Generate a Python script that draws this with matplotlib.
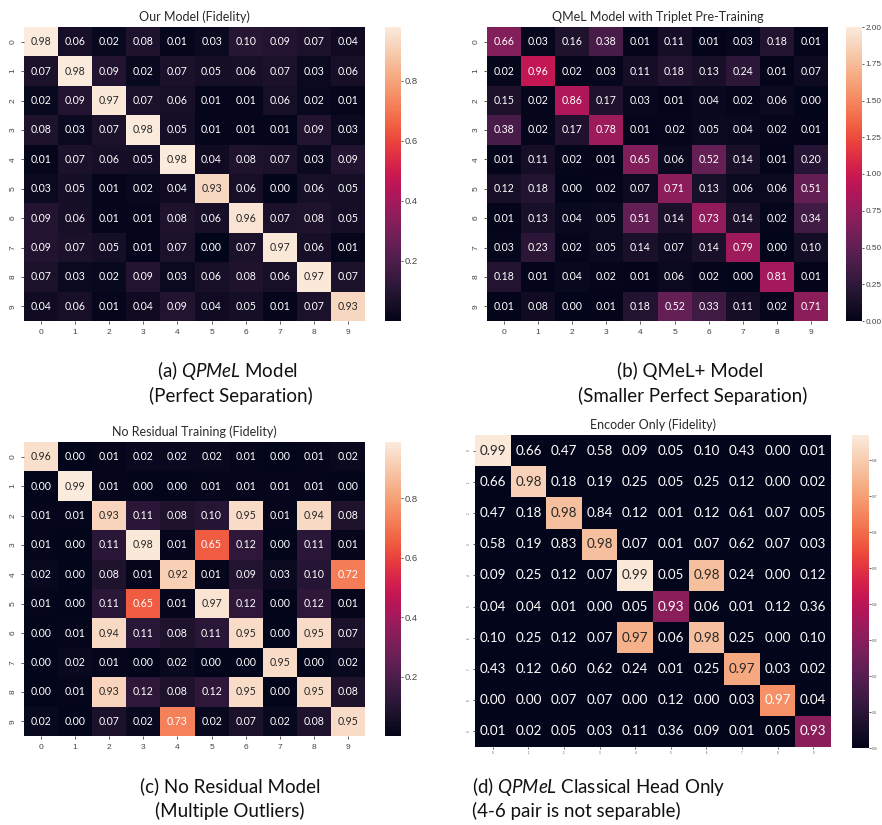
import numpy as np
import matplotlib
matplotlib.use('Agg')
import matplotlib.pyplot as plt
import seaborn as sns

# ---------------- data ----------------
labels = [str(i) for i in range(10)]

fid_ours = [
    [0.98, 0.06, 0.02, 0.08, 0.01, 0.03, 0.10, 0.09, 0.07, 0.04],
    [0.07, 0.98, 0.09, 0.02, 0.07, 0.05, 0.06, 0.07, 0.03, 0.06],
    [0.02, 0.09, 0.97, 0.07, 0.06, 0.01, 0.01, 0.06, 0.02, 0.01],
    [0.08, 0.03, 0.07, 0.98, 0.05, 0.01, 0.01, 0.01, 0.09, 0.03],
    [0.01, 0.07, 0.06, 0.05, 0.98, 0.04, 0.08, 0.07, 0.03, 0.09],
    [0.03, 0.05, 0.01, 0.02, 0.04, 0.93, 0.06, 0.00, 0.06, 0.05],
    [0.09, 0.06, 0.01, 0.01, 0.08, 0.06, 0.96, 0.07, 0.08, 0.05],
    [0.09, 0.07, 0.05, 0.01, 0.07, 0.00, 0.07, 0.97, 0.06, 0.01],
    [0.07, 0.03, 0.02, 0.09, 0.03, 0.06, 0.08, 0.06, 0.97, 0.07],
    [0.04, 0.06, 0.01, 0.04, 0.09, 0.04, 0.05, 0.01, 0.07, 0.93],
]

fid_triplet = [
    [0.66, 0.03, 0.16, 0.38, 0.01, 0.11, 0.01, 0.03, 0.18, 0.01],
    [0.02, 0.96, 0.02, 0.03, 0.11, 0.18, 0.13, 0.24, 0.01, 0.07],
    [0.15, 0.02, 0.86, 0.17, 0.03, 0.01, 0.04, 0.02, 0.06, 0.00],
    [0.38, 0.02, 0.17, 0.78, 0.01, 0.02, 0.05, 0.04, 0.02, 0.01],
    [0.01, 0.11, 0.02, 0.01, 0.65, 0.06, 0.52, 0.14, 0.01, 0.20],
    [0.12, 0.18, 0.00, 0.02, 0.07, 0.71, 0.13, 0.06, 0.06, 0.51],
    [0.01, 0.13, 0.04, 0.05, 0.51, 0.14, 0.73, 0.14, 0.02, 0.34],
    [0.03, 0.23, 0.02, 0.05, 0.14, 0.07, 0.14, 0.79, 0.00, 0.10],
    [0.18, 0.01, 0.04, 0.02, 0.01, 0.06, 0.02, 0.00, 0.81, 0.01],
    [0.01, 0.08, 0.00, 0.01, 0.18, 0.52, 0.33, 0.11, 0.02, 0.71],
]

fid_nores = [
    [0.96, 0.00, 0.01, 0.02, 0.02, 0.02, 0.01, 0.00, 0.01, 0.02],
    [0.00, 0.99, 0.01, 0.00, 0.00, 0.01, 0.01, 0.01, 0.01, 0.00],
    [0.01, 0.01, 0.93, 0.11, 0.08, 0.10, 0.95, 0.01, 0.94, 0.08],
    [0.01, 0.00, 0.11, 0.98, 0.01, 0.65, 0.12, 0.00, 0.11, 0.01],
    [0.02, 0.00, 0.08, 0.01, 0.92, 0.01, 0.09, 0.03, 0.10, 0.72],
    [0.01, 0.00, 0.11, 0.65, 0.01, 0.97, 0.12, 0.00, 0.12, 0.01],
    [0.00, 0.01, 0.94, 0.11, 0.08, 0.11, 0.95, 0.00, 0.95, 0.07],
    [0.00, 0.02, 0.01, 0.00, 0.02, 0.00, 0.00, 0.95, 0.00, 0.02],
    [0.00, 0.01, 0.93, 0.12, 0.08, 0.12, 0.95, 0.00, 0.95, 0.08],
    [0.02, 0.00, 0.07, 0.02, 0.73, 0.02, 0.07, 0.02, 0.08, 0.95],
]

fid_encoder = [
    [0.986, 0.66, 0.47, 0.58, 0.09, 0.05, 0.10, 0.43, 0.00, 0.01],
    [0.66, 0.981, 0.18, 0.19, 0.25, 0.05, 0.25, 0.12, 0.00, 0.02],
    [0.47, 0.18, 0.977, 0.84, 0.12, 0.01, 0.12, 0.61, 0.07, 0.05],
    [0.58, 0.19, 0.83, 0.977, 0.07, 0.01, 0.07, 0.62, 0.07, 0.03],
    [0.09, 0.25, 0.12, 0.07, 0.986, 0.05, 0.977, 0.24, 0.00, 0.12],
    [0.04, 0.04, 0.01, 0.00, 0.05, 0.930, 0.06, 0.01, 0.12, 0.36],
    [0.10, 0.25, 0.12, 0.07, 0.974, 0.06, 0.977, 0.25, 0.00, 0.10],
    [0.43, 0.12, 0.60, 0.62, 0.24, 0.01, 0.25, 0.972, 0.03, 0.02],
    [0.00, 0.00, 0.07, 0.07, 0.00, 0.12, 0.00, 0.03, 0.967, 0.04],
    [0.01, 0.02, 0.05, 0.03, 0.11, 0.36, 0.09, 0.01, 0.05, 0.930],
]

titles = ["Our Model (Fidelity)", "QMeL Model with Triplet Pre-Training",
          "No Residual Training (Fidelity)", "Encoder Only (Fidelity)"]

cbar_ticks_a = [0.2, 0.4, 0.6, 0.8]
cbar_ticks_b = [0.00, 0.25, 0.50, 0.75, 1.00, 1.25, 1.50, 1.75, 2.00]
cbar_ticks_d = [0.90, 0.91, 0.92, 0.93, 0.94, 0.95, 0.96, 0.97, 0.98]

# ---------------- style ----------------
plt.rcParams['mathtext.fontset'] = 'custom'
plt.rcParams['mathtext.rm'] = 'Lato'
plt.rcParams['mathtext.it'] = 'Lato:italic'

W, H, DPI = 882, 825, 100
fig = plt.figure(figsize=(W / DPI, H / DPI), dpi=DPI)

def ax_px(x0, y0, x1, y1):
    return fig.add_axes([x0 / W, 1 - y1 / H, (x1 - x0) / W, (y1 - y0) / H])

TICK_COLOR = '#444444'
TICK_FONT = 'Liberation Sans'

def draw(data, box, cbox, title, annot_size, tick_size, cbar_tick_size,
         vmin=None, vmax=None, cticks=None, cfmt=None):
    ax = ax_px(*box)
    cax = ax_px(*cbox)
    sns.heatmap(np.array(data), ax=ax, cbar_ax=cax, annot=True, fmt='.2f',
                cmap='rocket', vmin=vmin, vmax=vmax,
                xticklabels=labels, yticklabels=labels,
                annot_kws={'fontsize': annot_size, 'family': 'Lato'})
    ax.set_title(title, fontsize=9.0, family='Lato', color='#2a2a2a', pad=4)
    small = tick_size < 3
    ax.tick_params(axis='both', labelsize=tick_size, colors=TICK_COLOR,
                   length=1.5 if small else 2.5, width=0.6,
                   pad=1.5 if small else 3)
    for t in ax.get_xticklabels() + ax.get_yticklabels():
        t.set_family(TICK_FONT)
    plt.setp(ax.get_yticklabels(), rotation=90, va='center')
    plt.setp(ax.get_xticklabels(), rotation=0)
    if cticks is not None:
        cax.set_yticks(cticks)
        if cfmt:
            cax.set_yticklabels([cfmt % t for t in cticks])
    cax.tick_params(labelsize=cbar_tick_size, colors=TICK_COLOR,
                    length=1.5, width=0.6, pad=0.8)
    for t in cax.get_yticklabels():
        t.set_family(TICK_FONT)
    return ax

draw(fid_ours, (24, 27, 365, 321), (385, 27, 401, 321), titles[0],
     7.6, 6.0, 6.8, cticks=cbar_ticks_a, cfmt='%.1f')
draw(fid_triplet, (487, 27, 828, 321), (846, 27, 862, 321), titles[1],
     7.6, 6.0, 5.9, vmin=0.0, vmax=2.0, cticks=cbar_ticks_b, cfmt='%.2f')
draw(fid_nores, (24, 442, 365, 736), (385, 442, 401, 736), titles[2],
     7.6, 6.0, 6.8, cticks=cbar_ticks_a, cfmt='%.1f')
draw(fid_encoder, (475, 435, 831, 747), (852, 435, 869, 748), titles[3],
     9.6, 2.0, 2.0, vmin=0.90, vmax=0.987, cticks=cbar_ticks_d, cfmt='%.2f')

# ---------------- captions ----------------
CAP = dict(fontsize=13.5, family='Lato', color='#111111', va='center')
def cap(x, y, s, ha='center'):
    fig.text(x / W, 1 - y / H, s, ha=ha, **CAP)

cap(228, 371, r"(a) $\mathit{QPMeL}$ Model")
cap(231, 396, "(Perfect Separation)")
cap(690, 371, "(b) QMeL+ Model")
cap(693, 396, "(Smaller Perfect Separation)")
cap(230, 786, "(c) No Residual Model")
cap(230, 811, "(Multiple Outliers)")
cap(472, 786, r"(d) $\mathit{QPMeL}$ Classical Head Only", ha='left')
cap(472, 811, "(4-6 pair is not separable)", ha='left')

fig.savefig('out.png', dpi=DPI)
